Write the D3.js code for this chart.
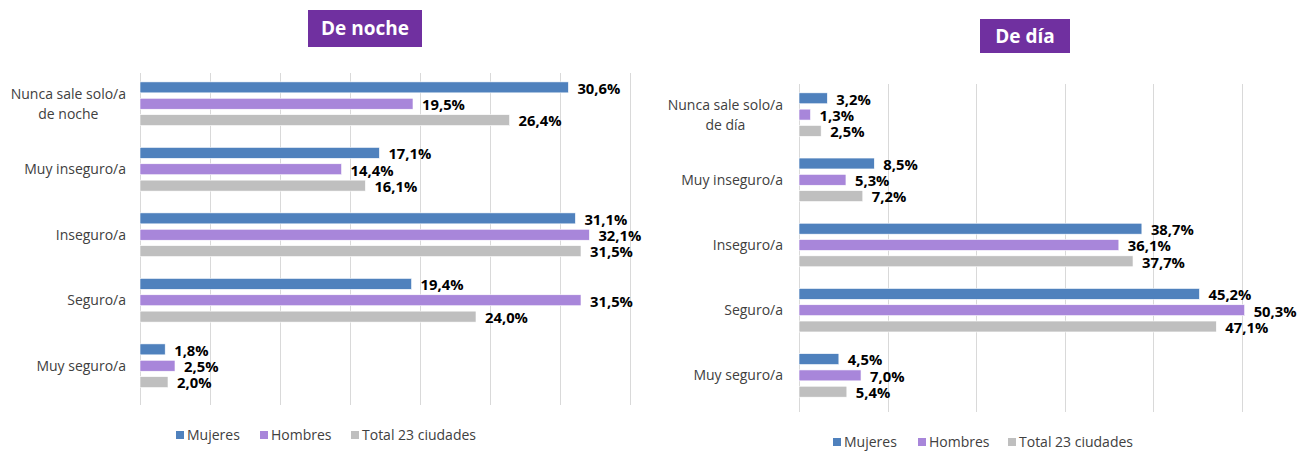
<!DOCTYPE html>
<html><head><meta charset="utf-8">
<script src="https://cdn.jsdelivr.net/npm/d3@7"></script>
<style>
body{margin:0;background:#fff;}
svg{display:block;font-family:"Open Sans",sans-serif;}
</style></head>
<body>
<svg id="c" width="1301" height="451"></svg>
<script>
const categoriesNight = [["Nunca sale solo/a","de noche"],["Muy inseguro/a"],["Inseguro/a"],["Seguro/a"],["Muy seguro/a"]];
const categoriesDay = [["Nunca sale solo/a","de día"],["Muy inseguro/a"],["Inseguro/a"],["Seguro/a"],["Muy seguro/a"]];
const seriesNames = ["Mujeres","Hombres","Total 23 ciudades"];
const colors = ["#4F81BD","#A886DA","#BFBFBF"];
const nightMujeres = [30.6,17.1,31.1,19.4,1.8];
const nightHombres = [19.5,14.4,32.1,31.5,2.5];
const nightTotal = [26.4,16.1,31.5,24.0,2.0];
const dayMujeres = [3.2,8.5,38.7,45.2,4.5];
const dayHombres = [1.3,5.3,36.1,50.3,7.0];
const dayTotal = [2.5,7.2,37.7,47.1,5.4];
const nightTicks = [0,5,10,15,20,25,30,35];
const dayTicks = [0,10,20,30,40,50];

const svg = d3.select("#c");
const fmt = v => v.toFixed(1).replace(".", ",") + "%";

function panel(o){
  const g = svg.append("g");
  const keys = o.cats.map(c => c.join(" "));
  const x = d3.scaleLinear().domain([0, o.xmax]).range([o.x0, o.x1]);
  const y0 = d3.scaleBand().domain(keys).range([o.y0, o.y1]);
  const y1 = d3.scaleBand().domain(seriesNames).range([0, y0.bandwidth()]).paddingInner(0.33).paddingOuter(0.665);
  g.selectAll("line.grid").data(o.ticks).join("line")
    .attr("x1", d => Math.round(x(d))+0.5).attr("x2", d => Math.round(x(d))+0.5)
    .attr("y1", o.gy0).attr("y2", o.gy1)
    .attr("stroke", "#D9D9D9").attr("stroke-width", 1);
  o.vals.forEach((arr, si) => {
    g.selectAll(null).data(arr).join("rect")
      .attr("x", x(0)).attr("y", (d,i) => y0(keys[i]) + y1(seriesNames[si]))
      .attr("width", d => x(d) - x(0)).attr("height", y1.bandwidth())
      .attr("fill", colors[si]).attr("stroke", "#fff").attr("stroke-width", 0.6);
    g.selectAll(null).data(arr).join("text")
      .attr("x", d => x(d) + 9).attr("y", (d,i) => y0(keys[i]) + y1(seriesNames[si]) + y1.bandwidth()/2 + 1)
      .attr("dy", "0.36em").attr("font-size", 14.8).attr("font-weight", "bold").attr("fill", "#000")
      .text(d => fmt(d));
  });
  o.cats.forEach((c, i) => {
    const cy = y0(keys[i]) + y0.bandwidth()/2;
    const t = g.append("text").attr("font-size", 14).attr("fill", "#404040");
    if (c.length === 1) {
      t.attr("x", o.labelX).attr("y", cy).attr("dy", "0.35em").attr("text-anchor", "end").text(c[0]);
    } else {
      t.attr("text-anchor", "middle");
      const tmp = g.append("text").attr("font-size", 14).text(c[0]);
      const w = tmp.node().getComputedTextLength(); tmp.remove();
      const cx = o.labelX - w/2;
      c.forEach((line, li) => {
        t.append("tspan").attr("x", cx).attr("y", cy + (li - (c.length-1)/2) * 20).attr("dy", "0.35em").text(line);
      });
    }
  });
  g.append("rect").attr("x", o.titleBox[0]).attr("y", o.titleBox[1]).attr("width", o.titleBox[2]).attr("height", o.titleBox[3]).attr("fill", "#7030A0");
  g.append("text").attr("x", o.titleX).attr("y", o.titleY).attr("text-anchor", "middle")
    .attr("font-size", 19).attr("font-weight", "bold").attr("fill", "#fff").attr("dy", "0.35em").text(o.title);
  seriesNames.forEach((s, i) => {
    g.append("rect").attr("x", o.legPos[i]).attr("y", o.legY - 4).attr("width", 8).attr("height", 8).attr("fill", colors[i]);
    g.append("text").attr("x", o.legPos[i] + 11).attr("y", o.legY).attr("dy", "0.35em").attr("font-size", 14).attr("fill", "#404040").text(s);
  });
}

panel({cats: categoriesNight, vals: [nightMujeres, nightHombres, nightTotal], xmax: 35, ticks: nightTicks,
  x0: 140, x1: 630, y0: 71, y1: 398.5, gy0: 73, gy1: 405, labelX: 126,
  title: "De noche", titleX: 365, titleY: 28, titleBox: [308, 10, 114, 37],
  legY: 435, legPos: [176, 260, 351]});
panel({cats: categoriesDay, vals: [dayMujeres, dayHombres, dayTotal], xmax: 50, ticks: dayTicks,
  x0: 799, x1: 1242, y0: 82, y1: 408, gy0: 84, gy1: 412, labelX: 783,
  title: "De día", titleX: 1025, titleY: 36, titleBox: [980, 19, 90, 34],
  legY: 442, legPos: [833, 918, 1008]});
</script>
</body></html>
